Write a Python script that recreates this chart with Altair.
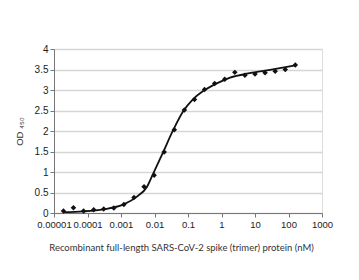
import altair as alt
import pandas as pd

# measured points (concentration nM, OD450)
conc = [1.91e-5, 3.81e-5, 7.63e-5, 1.53e-4, 3.05e-4, 6.10e-4, 1.22e-3, 2.44e-3,
        4.88e-3, 9.77e-3, 0.0195, 0.039, 0.078, 0.156, 0.3125, 0.625, 1.25, 2.5,
        5, 10, 20, 40, 80, 160]
od = [0.05, 0.13, 0.05, 0.08, 0.10, 0.12, 0.21, 0.38, 0.64, 0.92, 1.49, 2.03,
      2.51, 2.77, 3.01, 3.16, 3.26, 3.43, 3.36, 3.39, 3.42, 3.46, 3.50, 3.61]

# fitted curve
fit_conc = [1.9e-5, 7.5e-5, 3e-4, 1.2e-3, 3e-3, 6e-3, 9e-3, 0.018, 0.036, 0.072,
            0.14, 0.29, 0.57, 1.1, 1.8, 7, 28, 160]
fit_od = [0.02, 0.04, 0.09, 0.21, 0.40, 0.64, 0.95, 1.48, 2.02, 2.48,
          2.77, 2.98, 3.12, 3.23, 3.30, 3.41, 3.49, 3.60]

x_ticks = [1e-5, 1e-4, 1e-3, 1e-2, 1e-1, 1, 10, 100, 1000]
y_ticks = [0, 0.5, 1, 1.5, 2, 2.5, 3, 3.5, 4]

pts = pd.DataFrame({"c": conc, "od": od})
fit = pd.DataFrame({"c": fit_conc, "od": fit_od})

xscale = alt.Scale(type="log", domain=[1e-5, 1000], nice=False)
yscale = alt.Scale(domain=[0, 4], nice=False, zero=True)

xaxis = alt.Axis(values=x_ticks, format="~f", grid=False,
                 title="Recombinant full-length SARS-CoV-2 spike (trimer) protein (nM)",
                 titleFont="Lato", titleFontSize=9.5, titleFontWeight="normal",
                 titleColor="#333333", titleX=127, titleY=34, titleAlign="center",
                 titleBaseline="middle",
                 labelFont="Liberation Sans", labelFontSize=9.5, labelColor="#222222",
                 labelPadding=2, tickSize=4, tickColor="#777777",
                 domainColor="#777777", labelFlush=False, labelOverlap=False)
yaxis = alt.Axis(values=y_ticks, format=".1~f", grid=True, gridColor="#d6d6d6",
                 gridWidth=1.5, title="OD \u2084\u2085\u2080",
                 titleFont="Liberation Sans", titleFontSize=9.5, titleFontWeight="normal",
                 titleColor="#333333", titlePadding=10,
                 labelFont="Liberation Sans", labelFontSize=10, labelColor="#222222",
                 labelPadding=2, tickSize=4, tickColor="#777777",
                 domainColor="#777777", labelOverlap=False, tickCount=9)

enc = dict(
    x=alt.X("c:Q", scale=xscale, axis=xaxis),
    y=alt.Y("od:Q", scale=yscale, axis=yaxis),
)

line = alt.Chart(fit).mark_line(color="#111111", strokeWidth=1.8,
                                interpolate="monotone").encode(**enc)

points = alt.Chart(pts).mark_point(shape="diamond", filled=True, color="#111111",
                                   size=30, opacity=1).encode(**enc)

chart = alt.layer(line, points).properties(
    width=268, height=164,
    autosize=alt.AutoSizeParams(type="none"),
    padding={"left": 46, "top": 41, "right": 29, "bottom": 59},
).configure_view(stroke=None).configure(background="white")

chart.save("out.html", embed_options={"renderer": "svg", "actions": False})
